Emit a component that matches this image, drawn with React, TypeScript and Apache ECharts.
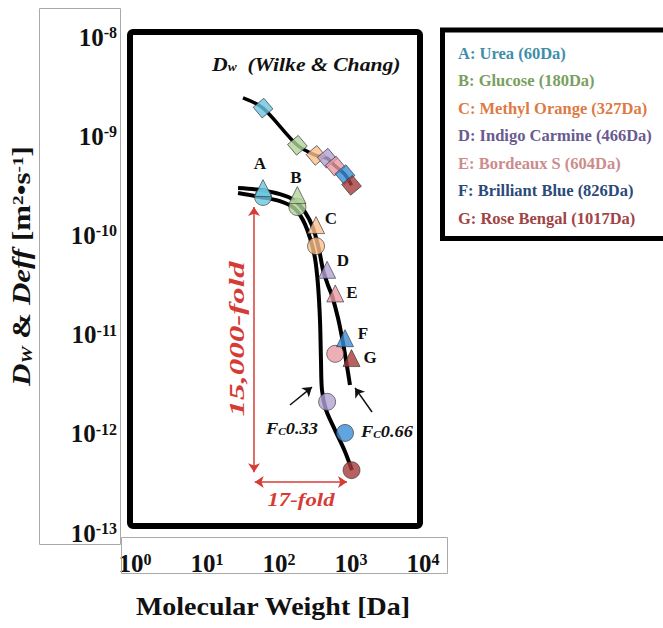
import React, { useEffect, useRef } from "react";
import * as echarts from "echarts";

// ---------- data ----------
const solutes = ["A", "B", "C", "D", "E", "F", "G"];
const soluteNames = [
  "Urea (60Da)",
  "Glucose (180Da)",
  "Methyl Orange (327Da)",
  "Indigo Carmine (466Da)",
  "Bordeaux S (604Da)",
  "Brilliant Blue (826Da)",
  "Rose Bengal (1017Da)",
];
const molWeights = [60, 180, 327, 466, 604, 826, 1017];
// Wilke & Chang diffusivities (squares)
const dwValues = [1.92e-9, 8.1e-10, 6.4e-10, 6.0e-10, 5.0e-10, 4.1e-10, 3.2e-10];
// Dw trend line
const dwLineX = [31.6, 60, 180, 327, 466, 604, 826, 1017];
const dwLineY = [2.43e-9, 1.92e-9, 8.1e-10, 6.4e-10, 6.0e-10, 5.0e-10, 4.1e-10, 3.2e-10];
// Deff at Fc 0.66 (triangles)
const deff066 = [3.0e-10, 2.55e-10, 1.27e-10, 4.5e-11, 2.6e-11, 9.2e-12, 5.8e-12];
// Deff at Fc 0.33 (circles)
const deff033 = [2.44e-10, 1.93e-10, 7.8e-11, 2.1e-12, 6.4e-12, 1.02e-12, 4.3e-13];
// model curves
const curve033X = [27, 54.5, 103, 162, 215, 270, 316, 348, 371, 383, 395, 450, 600, 826, 1032];
const curve033Y = [2.67e-10, 2.44e-10, 2.22e-10, 1.89e-10, 1.43e-10, 9.4e-11, 5.9e-11, 3.16e-11, 1.4e-11, 5.5e-12, 2.77e-12, 1.74e-12, 1.09e-12, 6.6e-13, 4.3e-13];
const curve066X = [27, 54.5, 103, 162, 230, 297, 361, 408, 478, 542, 660, 753, 853, 968];
const curve066Y = [3.0e-10, 2.87e-10, 2.61e-10, 2.27e-10, 1.72e-10, 1.19e-10, 7.1e-11, 4.5e-11, 3.16e-11, 2.5e-11, 1.47e-11, 9.2e-12, 5.5e-12, 3.1e-12];
// annotation arrows (data coords)
const foldVertical = [[45, 1.93e-10], [45, 4.1e-13]];
const foldHorizontal = [[46, 3.27e-13], [880, 3.27e-13]];
const arrow033 = [[142, 1.95e-12], [287, 2.96e-12]];
const arrow066 = [[1958, 1.66e-12], [1137, 2.9e-12]];

const markerColors = ["#6cc5e0", "#b2d59b", "#fbbf8c", "#b3a2d4", "#e89aa2", "#3b8ed6", "#a63a3a"];
const legendColors = ["#3f8ea8", "#78a060", "#dd7a45", "#6a5a90", "#cc8c8c", "#2b4a78", "#a04545"];

const SERIF = '"Liberation Serif", "Times New Roman", serif';
const RED = "#d63c36";

const zip = (xs: number[], ys: number[]) => xs.map((x, i) => [x, ys[i]]);

export default function App() {
  const ref = useRef<HTMLDivElement>(null);
  useEffect(() => {
    if (!ref.current) return;
    const chart = echarts.init(ref.current, undefined, { renderer: "svg" });

    const axisRich = {
      b: { fontFamily: SERIF, fontWeight: "bold", fontSize: 25, color: "#111", lineHeight: 25 },
      s: { fontFamily: SERIF, fontWeight: "bold", fontSize: 16, color: "#111", lineHeight: 15, verticalAlign: "top" },
    };
    const expLabel = (v: number) => `{b|10}{s|${Math.round(Math.log10(v))}}`;

    const markerSeries = (name: string, symbol: string, vals: number[], size: number, rot = 0) => ({
      name,
      type: "scatter",
      symbol,
      symbolSize: size,
      symbolRotate: rot,
      z: 5,
      data: molWeights.map((m, i) => ({
        value: [m, vals[i]],
        itemStyle: { color: markerColors[i], borderColor: "#333", borderWidth: 0.8 },
      })),
    });

    const arrowLine = (coords: number[][], color: string, both: boolean, width: number) => ({
      type: "lines",
      coordinateSystem: "cartesian2d",
      symbol: both ? ["arrow", "arrow"] : ["none", "arrow"],
      symbolSize: 9,
      z: 6,
      lineStyle: { color, width, opacity: 1 },
      data: [{ coords }],
    });

    const txt = (text: string, x: number, y: number, opts: any = {}) => ({
      type: "text",
      x,
      y,
      rotation: opts.rotation || 0,
      scaleX: opts.scaleX || 1,
      z: 20,
      style: {
        text,
        fill: opts.fill || "#111",
        fontFamily: SERIF,
        fontWeight: "bold",
        fontStyle: opts.italic ? "italic" : "normal",
        fontSize: opts.size || 16,
        align: opts.align || "center",
        verticalAlign: "middle",
        textAlign: opts.align || "center",
        textVerticalAlign: "middle",
        rich: opts.rich,
      },
    });

    const letterPos = [
      [260, 163], [296, 177], [331, 218], [343, 260], [352, 292], [363, 333], [370, 357],
    ];

    const subRich = (size: number, color: string) => ({
      i: { fontFamily: SERIF, fontWeight: "bold", fontStyle: "italic", fontSize: size, color },
      n: { fontFamily: SERIF, fontWeight: "bold", fontSize: size, color },
      sub: { fontFamily: SERIF, fontWeight: "bold", fontStyle: "italic", fontSize: size * 0.62, color, verticalAlign: "bottom", lineHeight: size * 0.62 },
      sup: { fontFamily: SERIF, fontWeight: "bold", fontSize: size * 0.62, color, verticalAlign: "top", lineHeight: size * 0.62 },
    });

    chart.setOption({
      animation: false,
      backgroundColor: "#fff",
      grid: { left: 135, top: 37, width: 288, height: 496 },
      xAxis: {
        type: "log",
        logBase: 10,
        min: 1,
        max: 10000,
        axisLine: { show: false },
        axisTick: { show: false },
        splitLine: { show: false },
        minorTick: { show: false },
        axisLabel: { margin: 18, formatter: expLabel, rich: axisRich, showMinLabel: true, showMaxLabel: true, hideOverlap: false },
      },
      yAxis: {
        type: "log",
        logBase: 10,
        min: 1e-13,
        max: 1e-8,
        axisLine: { show: false },
        axisTick: { show: false },
        splitLine: { show: false },
        axisLabel: { margin: 18, formatter: expLabel, rich: axisRich, showMinLabel: true, showMaxLabel: true, hideOverlap: false },
      },
      series: [
        { type: "line", data: zip(dwLineX, dwLineY), showSymbol: false, smooth: 0.3, lineStyle: { color: "#000", width: 3.5 }, z: 2 },
        { type: "line", data: zip(curve033X, curve033Y), showSymbol: false, smooth: 0.3, lineStyle: { color: "#000", width: 4 }, z: 2 },
        { type: "line", data: zip(curve066X, curve066Y), showSymbol: false, smooth: 0.3, lineStyle: { color: "#000", width: 4 }, z: 2 },
        markerSeries("Dw", "rect", dwValues, 14, 40),
        markerSeries("Fc0.33", "circle", deff033, 17),
        markerSeries("Fc0.66", "triangle", deff066, 17),
        arrowLine(foldVertical, RED, true, 1.5),
        arrowLine(foldHorizontal, RED, true, 1.5),
        arrowLine(arrow033, "#111", false, 1.5),
        arrowLine(arrow066, "#111", false, 1.5),
      ],
      graphic: [
        // tick label boxes
        { type: "rect", shape: { x: 39.5, y: 8.5, width: 81, height: 536 }, style: { fill: "none", stroke: "#aaa", lineWidth: 1 }, z: 1 },
        { type: "rect", shape: { x: 121.5, y: 537.5, width: 326, height: 36 }, style: { fill: "none", stroke: "#aaa", lineWidth: 1 }, z: 1 },
        // plot frame
        { type: "rect", shape: { x: 130, y: 32, width: 290, height: 494, r: 3 }, style: { fill: "none", stroke: "#000", lineWidth: 6 }, z: 10 },
        // legend frame
        { type: "rect", shape: { x: 442.5, y: 30, width: 240, height: 208.5 }, style: { fill: "none", stroke: "#000", lineWidth: 5 }, z: 10 },
        ...solutes.map((s, i) =>
          txt(`${s}: ${soluteNames[i]}`, 458, 53 + i * 27.5, { fill: legendColors[i], size: 16.5, align: "left", scaleX: 1.0 })
        ),
        ...solutes.map((s, i) => txt(s, letterPos[i][0], letterPos[i][1], { size: 17 })),
        txt("{i|D}{sub|w}{i|  (Wilke & Chang)}", 212, 64, { align: "left", size: 19, scaleX: 1.14, rich: subRich(19, "#111") }),
        txt("{i|F}{sub|C}{i|0.33}", 266, 428, { align: "left", size: 17, scaleX: 1.08, rich: subRich(17, "#111") }),
        txt("{i|F}{sub|C}{i|0.66}", 361, 431, { align: "left", size: 17, scaleX: 1.08, rich: subRich(17, "#111") }),
        txt("15,000-fold", 237, 339, { italic: true, fill: RED, size: 20, scaleX: 1.65, rotation: Math.PI / 2 }),
        txt("17-fold", 301, 500, { italic: true, fill: RED, size: 19, scaleX: 1.2 }),
        txt("{i|D}{sub|W}{n| & }{i|Deff}{n| [m}{sup|2}{n|•s}{sup|-1}{n|]}", 22, 266, {
          size: 25,
          scaleX: 1.24,
          rotation: Math.PI / 2,
          rich: subRich(25, "#111"),
        }),
        txt("Molecular Weight [Da]", 273, 607, { size: 25, scaleX: 1.12 }),
      ],
    });
    return () => chart.dispose();
  }, []);
  return <div ref={ref} style={{ position: "fixed", left: 0, top: 0, width: 663, height: 628 }} />;
}
